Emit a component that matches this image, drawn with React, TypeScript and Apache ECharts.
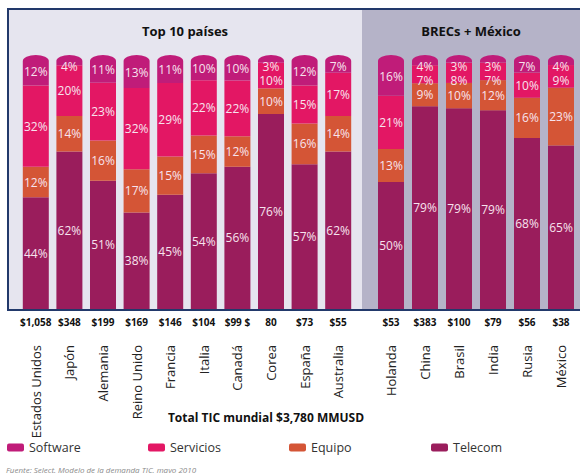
import React, { useEffect, useRef } from "react";
import * as echarts from "echarts";

const FONT = '"Open Sans", "Noto Sans", sans-serif';

const top10Countries = ["Estados Unidos", "Japón", "Alemania", "Reino Unido", "Francia", "Italia", "Canadá", "Corea", "España", "Australia"];
const top10Totals = ["$1,058", "$348", "$199", "$169", "$146", "$104", "$99 $", "80", "$73", "$55"];
const top10Software = [12, 4, 11, 13, 11, 10, 10, 3, 12, 7];
const top10Servicios = [32, 20, 23, 32, 29, 22, 22, 10, 15, 17];
const top10Equipo = [12, 14, 16, 17, 15, 15, 12, 10, 16, 14];
const top10Telecom = [44, 62, 51, 38, 45, 54, 56, 76, 57, 62];

const brecsCountries = ["Holanda", "China", "Brasil", "India", "Rusia", "México"];
const brecsTotals = ["$53", "$383", "$100", "$79", "$56", "$38"];
const brecsSoftware = [16, 4, 3, 3, 7, 4];
const brecsServicios = [21, 7, 8, 7, 10, 9];
const brecsEquipo = [13, 9, 10, 12, 16, 23];
const brecsTelecom = [50, 79, 79, 79, 68, 65];

const COLORS = {
  Software: "#c01c79",
  Servicios: "#e31764",
  Equipo: "#d45536",
  Telecom: "#9a1d5c",
};
const LABEL_COLOR = "#f7e3ee";
const LABEL_SIZE = 12;
const LABEL_LH = 12;
const LABEL_GAP = 15;
const PLOT_H = 254; // pixel height of 100%

function buildSeries(gridIdx: number, sw: number[], se: number[], eq: number[], te: number[]) {
  const totals = sw.map((_, i) => sw[i] + se[i] + eq[i] + te[i]);
  const norm = (arr: number[]) => arr.map((v, i) => (v / totals[i]) * 100);
  const teN = norm(te);
  const eqN = norm(eq);
  const seN = norm(se);
  const swN = norm(sw);
  const base = sw.map((_, i) => teN[i] + eqN[i] + seN[i]);
  // label placement: software label at least 10px below the bar top,
  // servicios label pushed down if it would collide with it
  const swOffset = swN.map((v) => {
    const h = (v / 100) * PLOT_H;
    return Math.max(0, 10 - h / 2);
  });
  const seOffset = seN.map((v, i) => {
    const swH = (swN[i] / 100) * PLOT_H;
    const swLabel = swH / 2 + swOffset[i];
    const seCenter = swH + ((v / 100) * PLOT_H) / 2;
    return seCenter - swLabel < LABEL_GAP ? swLabel + LABEL_GAP - seCenter : 0;
  });
  const mkBar = (name: string, raw: number[], data: number[], offs?: number[]) => ({
    type: "bar",
    name,
    stack: "s" + gridIdx,
    xAxisIndex: gridIdx * 2,
    yAxisIndex: gridIdx,
    barWidth: 26,
    data: data.map((v, i) => ({ value: v, label: { offset: [0, offs ? offs[i] : 0] } })),
    itemStyle: { color: (COLORS as any)[name] },
    label: {
      show: true,
      position: "inside",
      formatter: (p: any) => raw[p.dataIndex] + "%",
      color: LABEL_COLOR,
      fontSize: LABEL_SIZE,
      lineHeight: LABEL_LH,
      fontFamily: FONT,
    },
    emphasis: { disabled: true },
  });
  const custom = {
    type: "custom",
    name: "Software",
    z: 5,
    xAxisIndex: gridIdx * 2,
    yAxisIndex: gridIdx,
    itemStyle: { color: COLORS.Software },
    data: sw.map((v, i) => [i, base[i], 100, v, swOffset[i]]),
    encode: { x: 0, y: [1, 2] },
    renderItem: (params: any, api: any) => {
      const i = api.value(0);
      const b = api.value(1);
      const t = api.value(2);
      const pb = api.coord([i, b]);
      const pt = api.coord([i, t]);
      const w = 26;
      const ry = 6;
      const x0 = pb[0] - w / 2;
      const x1 = pb[0] + w / 2;
      const ys = pt[1] + ry;
      const d = `M${x0},${pb[1]} L${x0},${ys} A${w / 2},${ry} 0 0 1 ${x1},${ys} L${x1},${pb[1]} Z`;
      return {
        type: "group",
        children: [
          { type: "path", shape: { pathData: d }, style: { fill: COLORS.Software } },
          {
            type: "text",
            z2: 10,
            style: {
              text: api.value(3) + "%",
              x: pb[0],
              y: (pb[1] + pt[1]) / 2 + api.value(4) + 1,
              align: "center",
              verticalAlign: "middle",
              fill: LABEL_COLOR,
              fontSize: LABEL_SIZE,
              lineHeight: LABEL_LH,
              fontFamily: FONT,
            },
          },
        ],
      };
    },
  };
  return [
    mkBar("Telecom", te, teN),
    mkBar("Equipo", eq, eqN),
    mkBar("Servicios", se, seN, seOffset),
    custom,
  ];
}

function xAxes(gridIdx: number, cats: string[], totals: string[]) {
  return [
    {
      type: "category",
      gridIndex: gridIdx,
      data: cats,
      position: "bottom",
      axisLine: { show: false },
      axisTick: { show: false },
      axisLabel: { interval: 0, rotate: 90, margin: 36, fontSize: 13, color: "#222", fontFamily: FONT },
    },
    {
      type: "category",
      gridIndex: gridIdx,
      data: totals,
      position: "bottom",
      axisLine: { show: false },
      axisTick: { show: false },
      axisLabel: { interval: 0, margin: 8, fontSize: 10, fontWeight: "bold", color: "#111", fontFamily: FONT },
    },
  ];
}

const LEGEND_NAMES = ["Software", "Servicios", "Equipo", "Telecom"];
const LEGEND_LEFT = [7, 148, 289, 431];

export default function App() {
  const ref = useRef<HTMLDivElement>(null);
  useEffect(() => {
    if (!ref.current) return;
    const chart = echarts.init(ref.current, undefined, { renderer: "svg" });
    const navy = "#22396b";
    chart.setOption({
      animation: false,
      backgroundColor: "#ffffff",
      textStyle: { fontFamily: FONT },
      grid: [
        { left: 19, width: 336, top: 55, bottom: 164 },
        { left: 374, width: 204, top: 55, bottom: 164 },
      ],
      xAxis: [...xAxes(0, top10Countries, top10Totals), ...xAxes(1, brecsCountries, brecsTotals)],
      yAxis: [
        { type: "value", gridIndex: 0, min: 0, max: 100, show: false },
        { type: "value", gridIndex: 1, min: 0, max: 100, show: false },
      ],
      legend: LEGEND_NAMES.map((n, i) => ({
        data: [{ name: n, itemStyle: { color: (COLORS as any)[n] } }],
        left: LEGEND_LEFT[i],
        top: 441,
        padding: 0,
        icon: "roundRect",
        itemWidth: 17,
        itemHeight: 8,
        itemGap: 6,
        selectedMode: false,
        textStyle: { fontSize: 12.5, color: "#333", fontFamily: FONT },
      })),
      graphic: [
        { type: "rect", z: -10, shape: { x: 8, y: 9, width: 354, height: 300 }, style: { fill: "#e6e5ef" } },
        { type: "rect", z: -10, shape: { x: 362, y: 9, width: 218, height: 300 }, style: { fill: "#b5b3c8" } },
        { type: "line", z: 100, shape: { x1: 7, y1: 9, x2: 580, y2: 9 }, style: { stroke: navy, lineWidth: 2 } },
        { type: "line", z: 100, shape: { x1: 8, y1: 8, x2: 8, y2: 311 }, style: { stroke: navy, lineWidth: 2 } },
        { type: "line", z: 100, shape: { x1: 7, y1: 310, x2: 580, y2: 310 }, style: { stroke: navy, lineWidth: 2 } },
        {
          type: "text",
          x: 185,
          y: 31,
          style: { text: "Top 10 países", align: "center", verticalAlign: "middle", fontSize: 13, fontWeight: "bold", fill: "#111", fontFamily: FONT },
        },
        {
          type: "text",
          x: 471,
          y: 31,
          style: { text: "BRECs + México", align: "center", verticalAlign: "middle", fontSize: 13, fontWeight: "bold", fill: "#111", fontFamily: FONT },
        },
        {
          type: "text",
          x: 266,
          y: 417,
          style: { text: "Total TIC mundial $3,780 MMUSD", align: "center", verticalAlign: "middle", fontSize: 12, fontWeight: "bold", fill: "#111", fontFamily: FONT },
        },
        {
          type: "text",
          x: 6,
          y: 469,
          style: { text: "Fuente: Select, Modelo de la demanda TIC, mayo 2010", align: "left", verticalAlign: "middle", fontSize: 8, fontStyle: "italic", fill: "#8a8a8a", fontFamily: FONT },
        },
      ],
      series: [
        ...buildSeries(0, top10Software, top10Servicios, top10Equipo, top10Telecom),
        ...buildSeries(1, brecsSoftware, brecsServicios, brecsEquipo, brecsTelecom),
      ],
    });
    return () => chart.dispose();
  }, []);
  return <div ref={ref} style={{ position: "absolute", left: 0, top: 0, width: 580, height: 473 }} />;
}
